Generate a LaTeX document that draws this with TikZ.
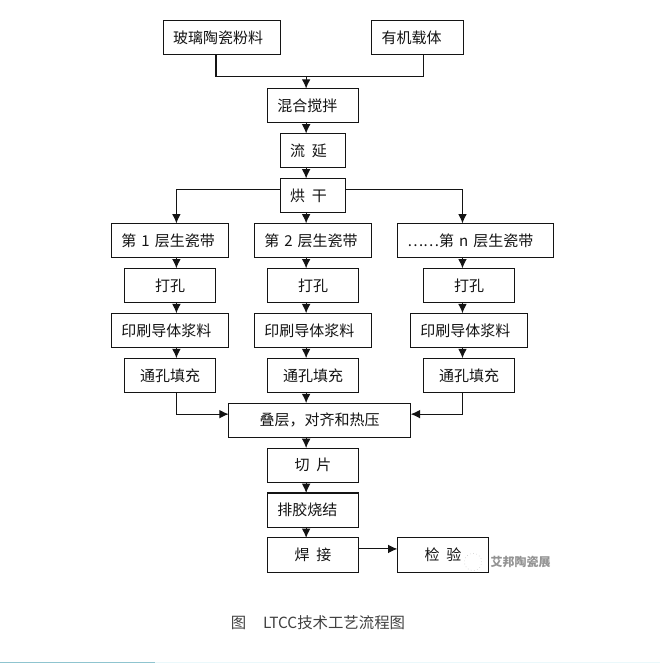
\documentclass[tikz,border=0pt]{standalone}
\usepackage{fontspec}
\setmainfont{Noto Sans CJK SC}
\usetikzlibrary{arrows.meta}
\usetikzlibrary{positioning}
\usetikzlibrary{calc}
\definecolor{inkline}{HTML}{141414}
\definecolor{capgray}{HTML}{404040}
\definecolor{stripA}{HTML}{8FC4CF}
\definecolor{stripB}{HTML}{EAF8FB}
\tikzset{
  procbox/.style={rectangle,draw=inkline,fill=white,line width=0.8pt,outer sep=0pt,
    inner xsep=7.5pt,inner ysep=0pt,minimum height=25.7pt,align=center,text=inkline,
    font=\fontsize{11.25}{13}\selectfont},
  boxS/.style={procbox,text width=34.3pt},
  boxM/.style={procbox,text width=53.5pt},
  boxL/.style={procbox,text width=73pt},
  boxN/.style={procbox,text width=102.3pt},
  boxT/.style={procbox,text width=121.5pt},
  flush/.style={align=left},
  link/.style={line width=0.8pt,draw=inkline},
  flow/.style={link,->,>={Latex[length=7pt,width=6.5pt]}}
}
\newcommand{\gapp}{\hspace{5pt}}
\newcommand{\flowdown}[2]{ %
  % Connect each pair #2 down the vertical line through #1.
  \foreach \u/\v in {#2} { %
    \draw[flow] (\u.south -| #1) -- (\v.north -| #1);
  }
}
\begin{document}
\begin{tikzpicture}
  \useasboundingbox (0,0) rectangle (495pt,-497.25pt);
  % raw materials
  \node[boxL, flush] at (166.3pt,-28.3pt)                  (powder) {玻璃陶瓷粉料};
  \node[boxM, flush, right = 68.5pt of powder]             (carrier) {有机载体};
  % trunk
  \node[boxM, flush, below = 25.3pt of powder, xshift = 68.5pt] (mix) {混合搅拌};
  \node[boxS, flush, below = 8pt of mix]                   (cast) {流\gapp 延};
  \node[boxS, flush, below = 8pt of cast]                  (dry) {烘\gapp 干};
  % green tapes
  \node[boxL, flush, below = 8pt of dry]                   (tapeB) {第 2 层生瓷带};
  \node[boxL, flush, left = 19.2pt of tapeB]               (tapeA) {第 1 层生瓷带};
  \node[boxN, flush, right = 19.2pt of tapeB]              (tapeC) {⋯⋯第 n 层生瓷带};
  % punching
  \node[boxM, below = 8pt of tapeA]                        (punchA) {打孔};
  \node[boxM, below = 8pt of tapeB]                        (punchB) {打孔};
  \node[boxM, below = 8pt of tapeC, xshift = -4.9pt]       (punchC) {打孔};
  % printing
  \node[boxL, flush, below = 8pt of punchA]                (printA) {印刷导体浆料};
  \node[boxL, flush, below = 8pt of punchB]                (printB) {印刷导体浆料};
  \node[boxL, flush, below = 8pt of punchC]                (printC) {印刷导体浆料};
  % via filling
  \node[boxM, below = 8pt of printA]                       (fillA) {通孔填充};
  \node[boxM, below = 8pt of printB]                       (fillB) {通孔填充};
  \node[boxM, below = 8pt of printC]                       (fillC) {通孔填充};
  % back end
  \node[boxT, below = 8pt of fillB, xshift = 5pt]          (stack) {叠层，对齐和热压};
  \node[boxM, below = 8pt of stack, xshift = -5pt]         (cut) {切\gapp 片};
  \node[boxM, flush, below = 8pt of cut]                   (debind) {排胶烧结};
  \node[boxM, below = 8pt of debind]                       (weld) {焊\gapp 接};
  \node[boxM, right = 29pt of weld]                        (check) {检\gapp 验};
  % caption and mark
  \node[text=capgray, font=\fontsize{11.55}{13}\selectfont] at (238.5pt,-467.3pt)
    (caption) {图\hspace{12.5pt}LTCC技术工艺流程图};
  \node[text=gray!85, font=\fontsize{9}{10}\selectfont\bfseries] at (390.5pt,-421.5pt)
    (mark) {艾邦陶瓷展};
  \node[circle, draw=gray!50, dotted, minimum size=13pt, inner sep=0pt,
    left = 3pt of mark] (markicon) {};

  % connector lines
  \coordinate (axisA) at ($(tapeA.center)+(4.7pt,0)$);
  \coordinate (axisB) at ($(tapeB.center)+(-5.2pt,0)$);
  \coordinate (axisC) at ($(tapeC.center)+(-9.8pt,0)$);
  \coordinate (powderout) at ($(powder.center)+(-4.3pt,0)$);
  \coordinate (carrierout) at ($(carrier.center)+(4.9pt,0)$);
  \coordinate (merge) at ($(mix.north -| axisB)+(0,9pt)$);
  \coordinate (dryout) at ($(dry.center)+(0,4.8pt)$);
  \coordinate (stackin) at ($(stack.center)+(0,4.6pt)$);
  \coordinate (weldout) at ($(weld.center)+(0,4.6pt)$);

  % edges
  \draw[link] (powder.south -| powderout) |- (merge) -| (carrier.south -| carrierout);
  \draw[flow] (merge) -- (mix.north -| merge);
  \flowdown{axisB}{mix/cast, cast/dry, dry/tapeB, tapeB/punchB, punchB/printB,
    printB/fillB, fillB/stack, stack/cut, cut/debind, debind/weld}
  \flowdown{axisA}{tapeA/punchA, punchA/printA, printA/fillA}
  \flowdown{axisC}{tapeC/punchC, punchC/printC, printC/fillC}
  \draw[flow] (dryout -| dry.west) -| (tapeA.north -| axisA);
  \draw[flow] (dryout -| dry.east) -| (tapeC.north -| axisC);
  \draw[flow] (fillA.south -| axisA) |- (stackin -| stack.west);
  \draw[flow] (fillC.south -| axisC) |- (stackin -| stack.east);
  \draw[flow] (weldout -| weld.east) -- (weldout -| check.west);

  % strip along the lower edge
  \fill[stripB] (116pt,-496.4pt) rectangle (495pt,-497.25pt);
  \fill[stripA] (0,-496.4pt) rectangle (116pt,-497.25pt);
\end{tikzpicture}
\end{document}
